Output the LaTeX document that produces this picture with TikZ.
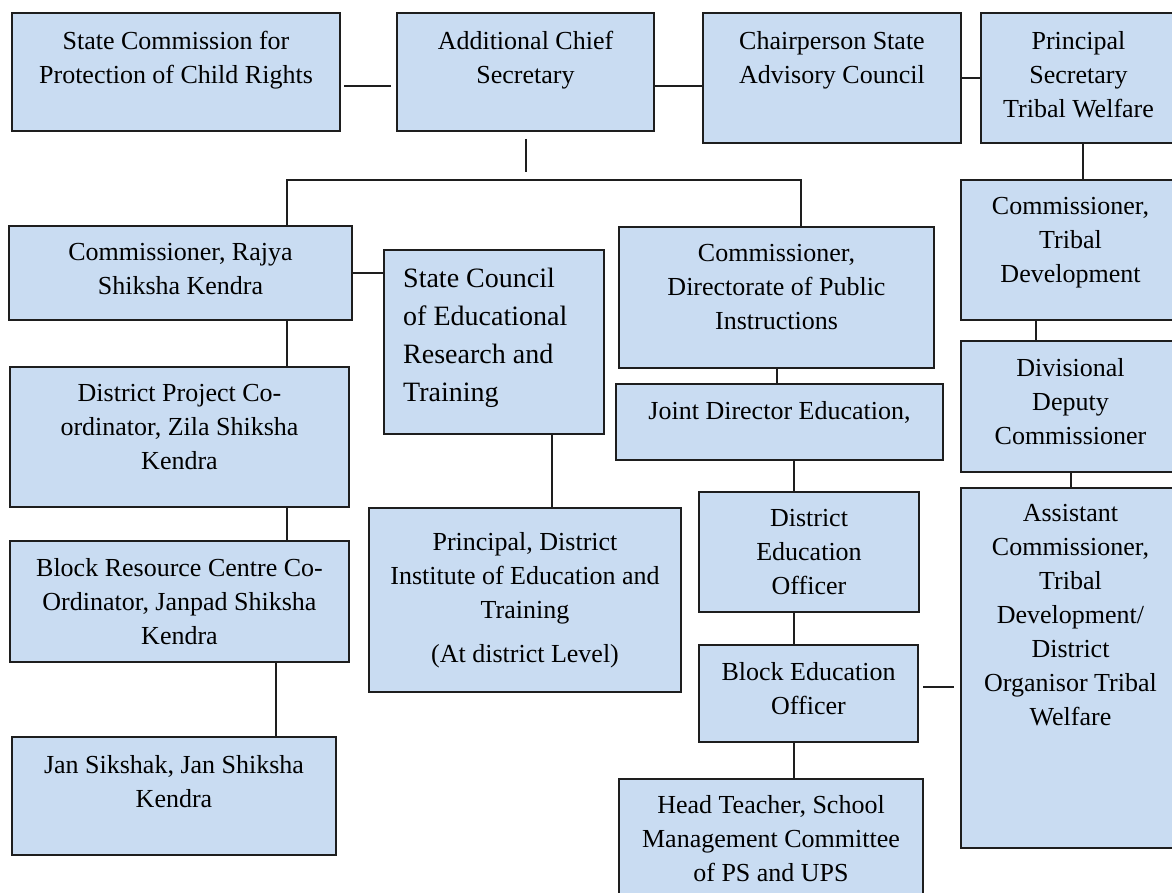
\documentclass[tikz,border=0pt]{standalone}
\usepackage{fontspec}
\setmainfont{Liberation Serif}
\usetikzlibrary{positioning,calc}
\definecolor{boxblue}{RGB}{201,220,242}
\definecolor{edgegray}{RGB}{30,30,30}

\begin{document}
\begin{tikzpicture}[x=1pt, y=-1pt,
  box/.style={draw=edgegray, fill=boxblue, line width=2pt, inner sep=0pt},
  txt/.style={align=center, inner sep=0pt, font=\fontsize{26}{34}\selectfont},
  bigtxt/.style={align=left, inner sep=0pt, font=\fontsize{28}{38}\selectfont},
  link/.style={draw=edgegray, line width=2pt}
]
\useasboundingbox[fill=white] (0,0) rectangle (1172,893);

% top row
\node[box, minimum width=328pt, minimum height=118pt] (scpcr) at (176,72) {};
\node[txt, below=19pt of scpcr.north] {State Commission for\\Protection of Child Rights};
\node[box, minimum width=257pt, minimum height=118pt] (acs) at (525.5,72) {};
\node[txt, below=19pt of acs.north] {Additional Chief\\Secretary};
\node[box, minimum width=258pt, minimum height=130pt] (chair) at (832,78) {};
\node[txt, below=19pt of chair.north] {Chairperson State\\Advisory Council};
\node[box, minimum width=195pt, minimum height=130pt] (pstw) at (1078.5,78) {};
\node[txt, below=19pt of pstw.north] {Principal\\Secretary\\Tribal Welfare};

% left column
\node[box, minimum width=343pt, minimum height=94pt] (rsk) at (180.5,273) {};
\node[txt, below=18.5pt of rsk.north] {Commissioner, Rajya\\Shiksha Kendra};
\node[box, minimum width=339pt, minimum height=140pt] (dpc) at (179.5,437) {};
\node[txt, below=18.5pt of dpc.north] {District Project Co-\\ordinator, Zila Shiksha\\Kendra};
\node[box, minimum width=339pt, minimum height=121pt] (brc) at (179.5,601.5) {};
\node[txt, below=18.5pt of brc.north] {Block Resource Centre Co-\\Ordinator, Janpad Shiksha\\Kendra};
\node[box, minimum width=324pt, minimum height=118pt] (jsk) at (174,796) {};
\node[txt, below=19.5pt of jsk.north] {Jan Sikshak, Jan Shiksha\\Kendra};

% middle column
\node[box, minimum width=220pt, minimum height=184pt] (scert) at (494,342) {};
\node[bigtxt, below right=19pt and 20pt of scert.north west] {State Council\\of Educational\\Research and\\Training};
\node[box, minimum width=312pt, minimum height=184pt] (diet) at (525,600) {};
\node[txt, below=25.5pt of diet.north] {Principal, District\\Institute of Education and\\Training\\[10pt](At district Level)};

% education column
\node[box, minimum width=315pt, minimum height=141pt] (dpi) at (776.5,297.5) {};
\node[txt, below=18.5pt of dpi.north] {Commissioner,\\Directorate of Public\\Instructions};
\node[box, minimum width=327pt, minimum height=76pt] (jde) at (779.5,422) {};
\node[txt, below=18.5pt of jde.north] {Joint Director Education,};
\node[box, minimum width=220pt, minimum height=120pt] (deo) at (809,552) {};
\node[txt, below=18.5pt of deo.north] {District\\Education\\Officer};
\node[box, minimum width=219pt, minimum height=97pt] (beo) at (808.5,693.5) {};
\node[txt, below=18.5pt of beo.north] {Block Education\\Officer};
\node[box, minimum width=304pt, minimum height=121pt] (ht) at (771,839.5) {};
\node[txt, below=17.5pt of ht.north] {Head Teacher, School\\Management Committee\\of PS and UPS};

% tribal column
\node[box, minimum width=219pt, minimum height=140pt] (ctd) at (1070.5,250) {};
\node[txt, below=18.5pt of ctd.north] {Commissioner,\\Tribal\\Development};
\node[box, minimum width=219pt, minimum height=131pt] (ddc) at (1070.5,406.5) {};
\node[txt, below=18.5pt of ddc.north] {Divisional\\Deputy\\Commissioner};
\node[box, minimum width=219pt, minimum height=360pt] (ac) at (1070.5,668) {};
\node[txt, below=17.5pt of ac.north] {Assistant\\Commissioner,\\Tribal\\Development/\\District\\Organisor Tribal\\Welfare};

% connectors
\coordinate (barL) at (287,180);
\coordinate (barR) at (801,180);
\coordinate (colE) at (794,0);

\draw[link, shorten <=3pt, shorten >=5pt] ([yshift=-14pt]scpcr.east) -- ([yshift=-14pt]scpcr.east -| acs.west);
\draw[link] ([yshift=-14pt]acs.east) -- ([yshift=-14pt]acs.east -| chair.west);
\draw[link] (chair.east) -- (chair.east -| pstw.west);
\draw[link, shorten <=7pt, shorten >=8pt] (acs.south) -- (acs.south |- barL);
\draw[link] (barL |- rsk.north) -- (barL) -- (barR) -- (barR |- dpi.north);
\draw[link] (barL |- rsk.south) -- (barL |- dpc.north);
\draw[link] (barL |- dpc.south) -- (barL |- brc.north);
\draw[link] ([xshift=96.5pt]brc.south) -- ([xshift=96.5pt]brc.south |- jsk.north);
\draw[link] (rsk.east) -- (rsk.east -| scert.west);
\draw[link] ([xshift=58pt]scert.south) -- ([xshift=58pt]scert.south |- diet.north);
\draw[link] (dpi.south) -- (dpi.south |- jde.north);
\draw[link] (colE |- jde.south) -- (colE |- deo.north);
\draw[link] (colE |- deo.south) -- (colE |- beo.north);
\draw[link] (colE |- beo.south) -- (colE |- ht.north);
\draw[link, shorten <=4pt, shorten >=6pt] ([yshift=6.5pt]beo.east) -- ([yshift=6.5pt]beo.east -| ac.west);
\draw[link] ([xshift=4.5pt]pstw.south) -- ([xshift=4.5pt]pstw.south |- ctd.north);
\draw[link] ([xshift=-34.5pt]ctd.south) -- ([xshift=-34.5pt]ctd.south |- ddc.north);
\draw[link] (ddc.south) -- (ddc.south |- ac.north);
\end{tikzpicture}
\end{document}
